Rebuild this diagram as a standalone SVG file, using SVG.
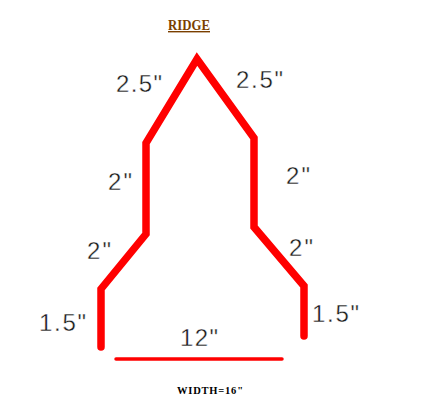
<svg xmlns="http://www.w3.org/2000/svg" width="432" height="405" viewBox="0 0 432 405">
<style>
.d{font-family:"Liberation Sans",Arial,sans-serif;font-size:24px;fill:#1a1a1a;stroke:#fff;stroke-width:.35px}
.s{font-family:"Liberation Serif","Times New Roman",serif;font-weight:bold}
.c{fill:none;stroke:#f00;stroke-linecap:round;stroke-linejoin:miter}
</style>
<rect width="432" height="405" fill="#fff"/>
<g id="connectors">
<polyline class="c" stroke-width="7.5" points="101,347 101,289 146,234 146,143 197,59 254,138 254,227 304,286 304,336"/>
<line class="c" stroke-width="3.5" stroke-linecap="butt" x1="116" y1="359" x2="282" y2="359"/>
</g>
<g id="labels">
<text id="ridge" class="s" x="168" y="30" font-size="14" fill="#7a3f00" text-decoration="underline" textLength="42" lengthAdjust="spacingAndGlyphs">RIDGE</text>
<text id="l25" class="d" x="116" y="92" textLength="46" lengthAdjust="spacing">2.5"</text>
<text id="r25" class="d" x="236" y="88" textLength="47" lengthAdjust="spacing">2.5"</text>
<text id="l2a" class="d" x="108" y="190" textLength="24" lengthAdjust="spacing">2"</text>
<text id="r2a" class="d" x="286" y="184" textLength="24" lengthAdjust="spacing">2"</text>
<text id="l2b" class="d" x="87" y="259" textLength="24" lengthAdjust="spacing">2"</text>
<text id="r2b" class="d" x="289" y="256" textLength="24" lengthAdjust="spacing">2"</text>
<text id="l15" class="d" x="39" y="331" textLength="47" lengthAdjust="spacing">1.5"</text>
<text id="r15" class="d" x="312" y="322" textLength="47" lengthAdjust="spacing">1.5"</text>
<text id="w12" class="d" x="180" y="346" textLength="38" lengthAdjust="spacing">12"</text>
<text id="width" class="s" x="177" y="394" font-size="10.5" fill="#000" textLength="66" lengthAdjust="spacing">WIDTH=16"</text>
</g>
</svg>
